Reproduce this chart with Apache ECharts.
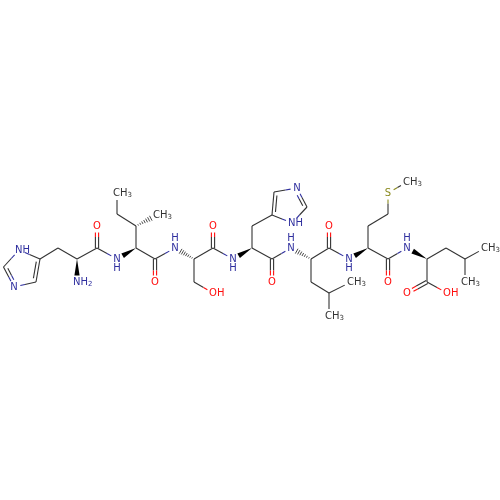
<!DOCTYPE html>
<html><head><meta charset="utf-8">
<style>html,body{margin:0;padding:0;background:#fff}#c{width:500px;height:500px}</style>
<script src="https://cdn.jsdelivr.net/npm/echarts@6/dist/echarts.min.js"></script>
</head><body><div id="c"></div>
<script>
// atoms: element label ('' = plain carbon vertex), with x / y in drawing units
const atomLabel = ['NH','','N','','','','','NH2','','O','N','','','CH3','','CH3','','O','N','','','OH','','O','N','','','','','N','','NH','','O','N','','','','CH3','CH3','','O','N','','','','S','CH3','','O','N','','','','CH3','CH3','','O','OH'];
const atomX = [19,3.5,14,36,40,58,77,77,97,97,117,136,136,157,117,117,155,155,175,194,194,213,213,213,233,252,252,272,274,297,307,292,272,272,291,311,311,329,351,329,329,329,349,368,368,388,388,407,388,388,407,427,446,465,485,465,427,407,447];
const atomY = [250,267,287,282,259,248,259,282,248,226,259,248,226,215,214,193,259,282,248,259,282,293,248,226,259,248,226,215,192,188,207,223,259,282,248,259,282,293,282,316,248,226,259,248,226,214,193,182,259,282,248,259,248,259,248,282,282,293,293];
const hAbove = [18,34,50];
const hBelow = [10,24,42];
// bonds: from atom, to atom, kind (s single, d double, p/m ring double to one side, w wedge, h hash)
const bondList = [
 [0,1,'s'],[1,2,'m'],[2,3,'s'],[3,4,'m'],[4,0,'s'],[4,5,'s'],[5,6,'s'],[6,7,'w'],[6,8,'s'],[8,9,'d'],[8,10,'s'],
 [11,10,'w'],[11,12,'s'],[12,13,'h'],[12,14,'s'],[14,15,'s'],[11,16,'s'],[16,17,'d'],[16,18,'s'],[19,18,'h'],
 [19,20,'s'],[20,21,'s'],[19,22,'s'],[22,23,'d'],[22,24,'s'],[25,24,'w'],[25,26,'s'],[26,27,'s'],[27,28,'p'],[28,29,'s'],
 [29,30,'p'],[30,31,'s'],[31,27,'s'],[25,32,'s'],[32,33,'d'],[32,34,'s'],[35,34,'h'],[35,36,'s'],[36,37,'s'],[37,38,'s'],[37,39,'s'],
 [35,40,'s'],[40,41,'d'],[40,42,'s'],[43,42,'w'],[43,44,'s'],[44,45,'s'],[45,46,'s'],[46,47,'s'],[43,48,'s'],[48,49,'d'],[48,50,'s'],
 [51,50,'w'],[51,52,'s'],[52,53,'s'],[53,54,'s'],[53,55,'s'],[51,56,'s'],[56,57,'d'],[56,58,'s']
];
const INK='#333333';
const colorOf = t => !t ? INK : t[0]==='N' ? '#2e2e9e' : t[0]==='O' ? '#ff0d0d' : t[0]==='S' ? '#8a8a1e' : INK;
const trim = t => !t ? 0 : (t.length>1 && t[0]==='C' ? 7 : 6.5);

const chart = echarts.init(document.getElementById('c'), null, {renderer:'canvas'});

function seg(x1,y1,x2,y2,c,w){return {type:'line',shape:{x1,y1,x2,y2},style:{stroke:c,lineWidth:w||1.1,lineCap:'butt'},silent:true};}
function halves(a,b,ca,cb,t1,t2,out){
  const dx=b[0]-a[0],dy=b[1]-a[1],L=Math.hypot(dx,dy),ux=dx/L,uy=dy/L;
  const s=[a[0]+ux*t1,a[1]+uy*t1],e=[b[0]-ux*t2,b[1]-uy*t2],m=[(a[0]+b[0])/2,(a[1]+b[1])/2];
  if(ca===cb){out.push(seg(s[0],s[1],e[0],e[1],ca));}
  else{out.push(seg(s[0],s[1],m[0],m[1],ca));out.push(seg(m[0],m[1],e[0],e[1],cb));}
}
function renderBond(params,api){
  const i=params.dataIndex,[f,t,k]=bondList[i];
  const a=api.coord([atomX[f],atomY[f]]),b=api.coord([atomX[t],atomY[t]]);
  const la=atomLabel[f],lb=atomLabel[t],ca=colorOf(la),cb=colorOf(lb);
  const dx=b[0]-a[0],dy=b[1]-a[1],L=Math.hypot(dx,dy),ux=dx/L,uy=dy/L,nx=-uy,ny=ux;
  const ta=trim(la),tb=trim(lb),out=[];
  if(k==='s'){halves(a,b,ca,cb,ta,tb,out);}
  else if(k==='d'){
    const o=1.6;
    halves([a[0]+nx*o,a[1]+ny*o],[b[0]+nx*o,b[1]+ny*o],ca,cb,ta,tb,out);
    halves([a[0]-nx*o,a[1]-ny*o],[b[0]-nx*o,b[1]-ny*o],ca,cb,ta,tb,out);
  } else if(k==='p'||k==='m'){
    const o=(k==='p'?1:-1)*3.2;
    halves(a,b,ca,cb,ta,tb,out);
    const s=L*0.14;
    halves([a[0]+nx*o,a[1]+ny*o],[b[0]+nx*o,b[1]+ny*o],ca,cb,Math.max(ta,s),Math.max(tb,s),out);
  } else if(k==='w'){
    const e=[b[0]-ux*tb,b[1]-uy*tb],h=2.6;
    out.push({type:'polygon',shape:{points:[[a[0],a[1]],[e[0]+nx*h,e[1]+ny*h],[e[0]-nx*h,e[1]-ny*h]]},style:{fill:'#000'},silent:true});
  } else if(k==='h'){
    const len=L-tb,n=7;
    for(let j=1;j<=n;j++){
      const d=len*j/n,h=0.35+2.4*j/n,px=a[0]+ux*d,py=a[1]+uy*d;
      out.push(seg(px+nx*h,py+ny*h,px-nx*h,py-ny*h,INK,0.9));
    }
  }
  return {type:'group',children:out};
}
const textItems=[];
atomLabel.forEach((t,i)=>{ if(t) textItems.push({i,t,dy:0}); });
hAbove.forEach(i=>textItems.push({i,t:'H',dy:-9.5,c:colorOf('N')}));
hBelow.forEach(i=>textItems.push({i,t:'H',dy:9.5,c:colorOf('N')}));
function renderText(params,api){
  const it=textItems[params.dataIndex],p=api.coord([atomX[it.i],atomY[it.i]]);
  const multi=it.t.length>1;
  const str=it.t.replace(/([A-Z])([0-9])$/,'$1{s|$2}');
  return {type:'text',silent:true,x:multi?p[0]-3.9:p[0],y:p[1]+it.dy,style:{
    text:str,fill:it.c||colorOf(it.t),font:'10px "DejaVu Sans"',
    align:multi?'left':'center',verticalAlign:'middle',
    rich:{s:{font:'7px "DejaVu Sans"',fill:it.c||colorOf(it.t),padding:[5,0,0,0]}}
  }};
}
chart.setOption({
  animation:false,backgroundColor:'#fff',
  grid:{left:0,right:0,top:0,bottom:0},
  xAxis:{type:'value',min:0,max:500,show:false},
  yAxis:{type:'value',min:0,max:500,inverse:true,show:false},
  series:[
    {type:'custom',coordinateSystem:'cartesian2d',silent:true,data:bondList.map(b=>[atomX[b[0]],atomY[b[0]]]),renderItem:renderBond,clip:false},
    {type:'custom',coordinateSystem:'cartesian2d',silent:true,data:textItems.map(t=>[atomX[t.i],atomY[t.i]]),renderItem:renderText,clip:false}
  ]
});
</script>
</body></html>
